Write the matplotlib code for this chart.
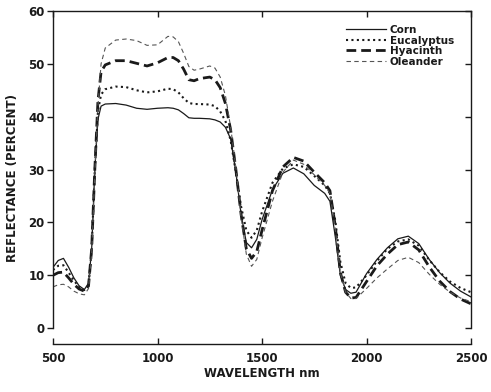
import matplotlib
matplotlib.use("Agg")
import matplotlib.pyplot as plt

wavelength = [500, 525, 550, 575, 600, 625, 650, 670, 685, 700, 715, 730, 750,
              800, 850, 900, 950, 1000, 1050,
              1075, 1100, 1125, 1150, 1175, 1200,
              1250, 1275, 1300, 1325, 1350, 1375, 1400, 1425, 1450, 1475, 1500,
              1550, 1600, 1650, 1700, 1750, 1800,
              1825, 1850, 1875, 1900, 1925, 1950,
              2000, 2050, 2100, 2150, 2200, 2250, 2300, 2350, 2400, 2450, 2500]

corn = [11.5, 12.8, 13.2, 11.5, 9.5, 8.0, 7.3, 8.5, 15, 30, 39.5, 42.0, 42.4,
        42.5, 42.2, 41.6, 41.4, 41.6, 41.7,
        41.6, 41.3, 40.6, 39.8, 39.7, 39.7,
        39.6, 39.4, 39.0, 38.0, 35.8, 29.5, 21.5, 16.2, 15.2, 16.8, 20.5,
        26.2, 29.3, 30.3, 29.2, 27.0, 25.5,
        24.0, 17.5, 10.0, 7.3, 6.6, 6.8,
        10.3, 13.0, 15.2, 16.9, 17.4, 16.0, 13.0, 10.5, 8.5, 7.0, 5.9]

eucalyptus = [11.0, 11.8, 11.9, 10.5, 9.0, 7.8, 7.2, 8.0, 15, 30, 41, 44.2, 45.2,
              45.7, 45.6, 45.0, 44.6, 44.8, 45.3,
              45.2, 44.6, 43.5, 42.6, 42.4, 42.4,
              42.3, 42.0, 41.0, 39.2, 35.5, 29.5, 23.0, 18.5, 17.1, 18.5, 22.0,
              27.5, 30.2, 31.0, 30.5, 28.8, 27.0,
              25.5, 20.5, 12.5, 8.5, 7.6, 7.7,
              10.0, 12.7, 15.0, 16.4, 16.8, 15.6, 12.9, 10.6, 8.8, 7.6, 6.8]

hyacinth = [10.0, 10.5, 10.6, 9.5, 8.3, 7.4, 7.0, 8.0, 15, 30, 43, 48.5, 49.8,
            50.6, 50.6, 50.1, 49.6, 50.2, 51.2,
            51.2, 50.6, 49.0, 47.0, 46.8, 47.2,
            47.5, 47.0, 45.5, 42.5, 37.5, 30.0, 21.5, 15.0, 13.2, 14.5, 18.5,
            26.0, 30.5, 32.3, 31.6, 29.5, 27.5,
            26.0, 19.5, 10.5, 6.8, 5.7, 5.8,
            8.8, 11.8, 14.0, 15.8, 16.3, 14.8, 11.6, 8.9, 6.9, 5.5, 4.6]

oleander = [7.8, 8.2, 8.3, 7.8, 7.0, 6.5, 6.3, 7.5, 14, 29, 42, 50, 53,
            54.5, 54.7, 54.4, 53.5, 53.6, 55.2,
            55.1, 54.2, 52.0, 49.5, 48.8, 49.0,
            49.6, 49.2, 47.5, 44.0, 38.0, 30.5, 21.0, 14.0, 11.7, 13.0, 17.0,
            24.0, 29.5, 31.8, 31.0, 29.0, 27.0,
            25.5, 19.0, 10.5, 6.8, 5.6, 5.6,
            7.5, 9.5, 11.2, 12.8, 13.4, 12.4, 10.2, 8.3, 6.8, 5.7, 5.0]

series_names = ["Corn", "Eucalyptus", "Hyacinth", "Oleander"]
x_ticks = [500, 1000, 1500, 2000, 2500]
y_ticks = [0, 10, 20, 30, 40, 50, 60]

W, H = 491, 392
fig = plt.figure(figsize=(W / 100, H / 100), dpi=100)
ax = fig.add_axes([53 / W, 1 - 344 / H, (471 - 53) / W, (344 - 11) / H])

ink = "#1a1a1a"
ax.plot(wavelength, corn, color=ink, lw=0.9, ls="-", label=series_names[0])
ax.plot(wavelength, eucalyptus, color=ink, lw=1.5, ls=(0, (1, 1.6)), label=series_names[1])
ax.plot(wavelength, hyacinth, color=ink, lw=2.0, ls=(0, (3.5, 1.8)), label=series_names[2])
ax.plot(wavelength, oleander, color="#555555", lw=0.8, ls=(0, (4, 3)), label=series_names[3])

ax.set_xlim(500, 2500)
ax.set_ylim(-3, 60)

for s in ax.spines.values():
    s.set_color(ink)
    s.set_linewidth(1.0)
ax.spines["left"].set_bounds(0, 60)
ax.spines["right"].set_bounds(0, 60)

ax.set_xticks(x_ticks)
ax.set_yticks(y_ticks)
tkfont = dict(fontsize=8.5, fontweight="bold", color=ink)
ax.set_xticklabels([str(v) for v in x_ticks], **tkfont)
ax.set_yticklabels([str(v) for v in y_ticks], **tkfont)
ax.tick_params(axis="x", direction="in", length=4, width=1, top=True, bottom=True, pad=6, colors=ink)
ax.tick_params(axis="y", which="both", left=True, right=False, direction="out", length=4, width=1, pad=2, colors=ink)

# inward ticks on the right spine
axr = ax.twinx()
axr.set_ylim(ax.get_ylim())
axr.set_yticks(y_ticks)
axr.set_yticklabels([])
axr.tick_params(axis="y", direction="in", length=4, width=1, colors=ink)
for s in axr.spines.values():
    s.set_visible(False)

ax.set_xlabel("WAVELENGTH nm", fontsize=8.5, fontweight="bold", color=ink, labelpad=1)
ax.set_ylabel("REFLECTANCE (PERCENT)", fontsize=8.5, fontweight="bold", color=ink, labelpad=7)

leg = ax.legend(loc="upper left", bbox_to_anchor=(346 / W, 1 - 25 / H),
                bbox_transform=fig.transFigure, frameon=False,
                fontsize=7.5, handlelength=3.8, handletextpad=0.4,
                labelspacing=0.05, borderpad=0, borderaxespad=0)
for t in leg.get_texts():
    t.set_fontweight("bold")
    t.set_color(ink)

fig.savefig("out.png", dpi=100, facecolor="white")
